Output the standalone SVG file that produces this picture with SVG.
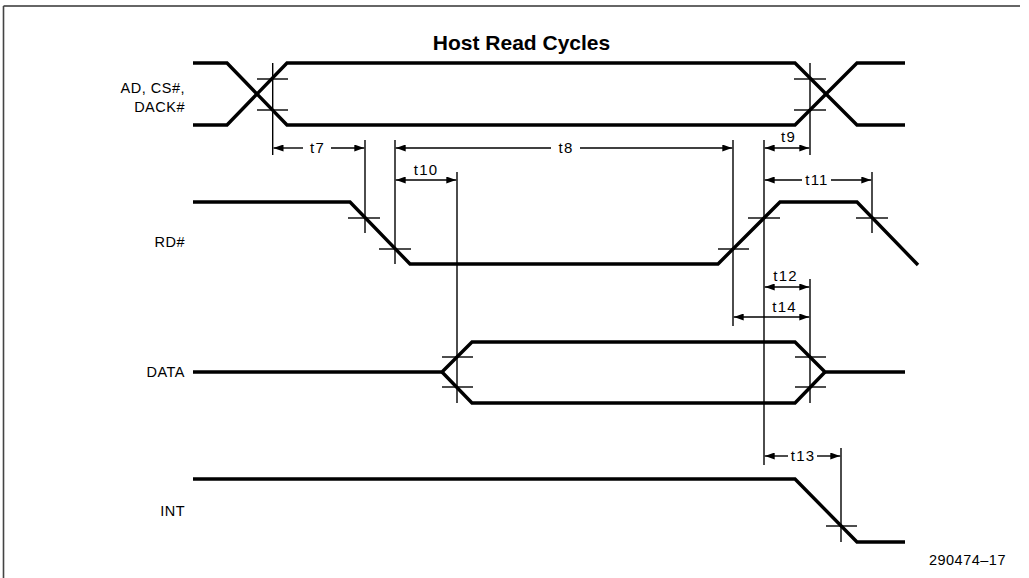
<svg xmlns="http://www.w3.org/2000/svg" width="1029" height="578" viewBox="0 0 1029 578">
<defs>
<marker id="ah" viewBox="0 0 10 7" refX="10" refY="3.5" markerWidth="10" markerHeight="7" markerUnits="userSpaceOnUse" orient="auto-start-reverse">
<path d="M0,0 L10,3.5 L0,7 z" fill="#000"/>
</marker>
<style>
.sig{fill:none;stroke:#000;stroke-width:3.4;stroke-linejoin:miter;stroke-linecap:butt}
.thin{fill:none;stroke:#000;stroke-width:1.4}
.dim{fill:none;stroke:#000;stroke-width:1.4}
.lbl{font-family:"Liberation Sans",Arial,sans-serif;font-size:14.5px;letter-spacing:0.5px;fill:#000}
.tl{font-family:"Liberation Sans",Arial,sans-serif;font-size:15px;letter-spacing:1.2px;fill:#000}
.title{font-family:"Liberation Sans",Arial,sans-serif;font-size:21px;font-weight:bold;fill:#000}
</style>
</defs>
<rect width="1029" height="578" fill="#fff"/>
<g id="frame">
<line x1="3.5" y1="6" x2="1020" y2="6" stroke="#333" stroke-width="1.6"/>
<line x1="3.5" y1="6" x2="3.5" y2="578" stroke="#444" stroke-width="1.6"/>
</g>
<text id="title" class="title" x="521.5" y="50" text-anchor="middle">Host Read Cycles</text>

<g id="sig-ad">
<text class="lbl" x="185" y="93" text-anchor="end">AD, CS#,</text>
<text class="lbl" x="185" y="112" text-anchor="end">DACK#</text>
<polyline class="sig" points="193,63 227,63 287,125 795,125 857,63 905,63"/>
<polyline class="sig" points="193,125 227,125 287,63 795,63 857,125 905,125"/>
</g>
<g id="sig-rd">
<text class="lbl" x="185" y="247" text-anchor="end">RD#</text>
<polyline class="sig" points="193,202 350,202 410,264 718,264 780,202 857,202 918,265"/>
</g>
<g id="sig-data">
<text class="lbl" x="185" y="377" text-anchor="end">DATA</text>
<polyline class="sig" points="193,372 442,372 472,342 795,342 825,372 905,372"/>
<polyline class="sig" points="442,372 472,403 795,403 825,372"/>
</g>
<g id="sig-int">
<text class="lbl" x="185" y="516" text-anchor="end">INT</text>
<polyline class="sig" points="193,479 795,479 857,542 905,542"/>
</g>

<g id="connectors">
<line class="thin" x1="272.7" y1="63" x2="272.7" y2="155"/>
<line class="thin" x1="810" y1="63" x2="810" y2="155"/>
<line class="thin" x1="365" y1="140" x2="365" y2="233"/>
<line class="thin" x1="395" y1="140" x2="395" y2="264"/>
<line class="thin" x1="457" y1="172" x2="457" y2="403"/>
<line class="thin" x1="733" y1="140" x2="733" y2="326"/>
<line class="thin" x1="764" y1="140" x2="764" y2="465"/>
<line class="thin" x1="872" y1="172" x2="872" y2="233"/>
<line class="thin" x1="810" y1="279" x2="810" y2="403"/>
<line class="thin" x1="841" y1="448" x2="841" y2="542"/>
<line class="thin" x1="257" y1="79" x2="288" y2="79"/>
<line class="thin" x1="257" y1="110" x2="288" y2="110"/>
<line class="thin" x1="794" y1="79" x2="826" y2="79"/>
<line class="thin" x1="794" y1="110" x2="826" y2="110"/>
<line class="thin" x1="348" y1="218" x2="380" y2="218"/>
<line class="thin" x1="379" y1="249" x2="411" y2="249"/>
<line class="thin" x1="718" y1="249" x2="749" y2="249"/>
<line class="thin" x1="748" y1="218" x2="780" y2="218"/>
<line class="thin" x1="856" y1="218" x2="888" y2="218"/>
<line class="thin" x1="442" y1="357" x2="473" y2="357"/>
<line class="thin" x1="442" y1="387" x2="473" y2="387"/>
<line class="thin" x1="795" y1="357" x2="826" y2="357"/>
<line class="thin" x1="795" y1="387" x2="826" y2="387"/>
<line class="thin" x1="826" y1="526" x2="857" y2="526"/>
<!-- t7 -->
<line class="dim" x1="303" y1="148" x2="273.5" y2="148" marker-end="url(#ah)"/>
<line class="dim" x1="331" y1="148" x2="364.3" y2="148" marker-end="url(#ah)"/>
<text class="tl" x="317.5" y="153" text-anchor="middle">t7</text>
<!-- t8 -->
<line class="dim" x1="551" y1="148" x2="395.7" y2="148" marker-end="url(#ah)"/>
<line class="dim" x1="580" y1="148" x2="732.3" y2="148" marker-end="url(#ah)"/>
<text class="tl" x="566" y="153" text-anchor="middle">t8</text>
<!-- t9 -->
<line class="dim" x1="764.7" y1="148" x2="809.3" y2="148" marker-start="url(#ah)" marker-end="url(#ah)"/>
<text class="tl" x="788.5" y="142" text-anchor="middle">t9</text>
<!-- t10 -->
<line class="dim" x1="395.7" y1="180" x2="456.3" y2="180" marker-start="url(#ah)" marker-end="url(#ah)"/>
<text class="tl" x="426" y="175" text-anchor="middle">t10</text>
<!-- t11 -->
<line class="dim" x1="802" y1="180" x2="764.7" y2="180" marker-end="url(#ah)"/>
<line class="dim" x1="831" y1="180" x2="871.3" y2="180" marker-end="url(#ah)"/>
<text class="tl" x="817" y="185" text-anchor="middle">t11</text>
<!-- t12 -->
<line class="dim" x1="764.7" y1="287" x2="809.3" y2="287" marker-start="url(#ah)" marker-end="url(#ah)"/>
<text class="tl" x="785.5" y="281" text-anchor="middle">t12</text>
<!-- t14 -->
<line class="dim" x1="733.7" y1="317" x2="809.3" y2="317" marker-start="url(#ah)" marker-end="url(#ah)"/>
<text class="tl" x="784.5" y="312" text-anchor="middle">t14</text>
<!-- t13 -->
<line class="dim" x1="788" y1="456" x2="764.7" y2="456" marker-end="url(#ah)"/>
<line class="dim" x1="817" y1="456" x2="840.3" y2="456" marker-end="url(#ah)"/>
<text class="tl" x="803" y="461" text-anchor="middle">t13</text>
</g>
<text id="figno" class="lbl" x="1006" y="565" text-anchor="end" letter-spacing="0.9">290474–17</text>
</svg>
